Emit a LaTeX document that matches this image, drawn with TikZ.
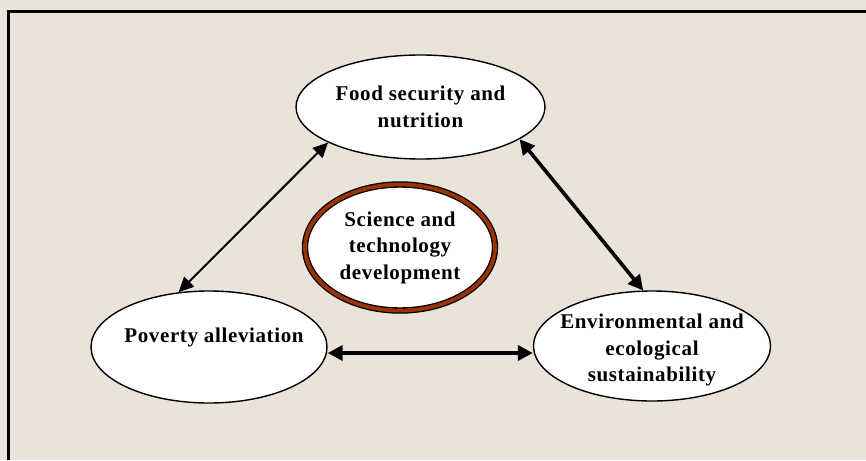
\documentclass[tikz,border=0pt]{standalone}
\usepackage{fontspec}
\setmainfont{Liberation Serif}[LetterSpace=3]
\usetikzlibrary{shapes.geometric,arrows.meta}
\definecolor{paper}{RGB}{233,227,217}
\definecolor{ringbrown}{RGB}{153,51,0}
\tikzset{
  bubble/.style={ellipse, draw=black, line width=1.4pt, fill=white, inner sep=0pt,
    align=center, font=\fontsize{21}{26.5}\selectfont\bfseries},
  lbl/.style={inner sep=0pt, align=center, font=\fontsize{21}{26.5}\selectfont\bfseries},
  thinlink/.style={line width=2pt, {Triangle[length=15pt,width=14pt]}-{Triangle[length=15pt,width=14pt]}},
  thicklink/.style={line width=3.6pt, {Triangle[length=15pt,width=15pt]}-{Triangle[length=15pt,width=15pt]}},
}
\begin{document}
\begin{tikzpicture}[x=1pt,y=-1pt]
\useasboundingbox (0,0) rectangle (866,460);
\fill[paper] (0,0) rectangle (866,460);
\draw[line width=2.2pt] (8.5,460) -- (8.5,11.5) -- (866,11.5);

\node[bubble, minimum width=249pt, minimum height=104pt] (food) at (420.5,107) {Food security and\\nutrition};
\node[bubble, minimum width=236pt, minimum height=112pt] (pov) at (209,347) {};
\node[lbl] (povtext) at (214,337) {Poverty alleviation};
\node[bubble, minimum width=237pt, minimum height=110pt] (env) at (652,346) {};
\node[lbl] (envtext) at (652,350) {Environmental and\\ecological\\sustainability};
\node[bubble, draw=black, line width=1.3pt, double=ringbrown, double distance=3.8pt,
      minimum width=190pt, minimum height=126pt] (sci) at (400,247.5) {Science and\\technology\\development};

\draw[thinlink] (food.201) -- (pov.119.4);
\draw[thicklink] (food.342.5) -- (env.99.5);
\draw[thicklink] ([yshift=-6pt]pov.east) -- ([yshift=-6pt]pov.east -| env.west);
\end{tikzpicture}
\end{document}
